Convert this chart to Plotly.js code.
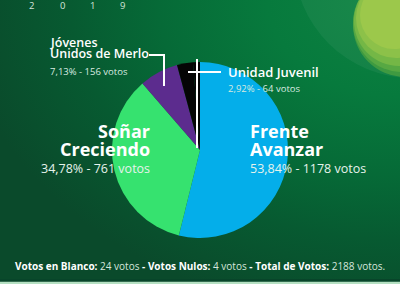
<!DOCTYPE html>
<html>
<head>
<meta charset="utf-8">
<script src="https://cdn.plot.ly/plotly-3.0.1.min.js"></script>
<style>
html,body{margin:0;padding:0;}
#chart{width:400px;height:284px;
background: radial-gradient(ellipse 440px 320px at 100% 0%, #0d8442 0%, #077a3d 30%, #066a37 55%, #075a31 75%, #0a4a2b 100%);}
</style>
</head>
<body>
<div id="chart"></div>
<script>
// Data
const parties = ["Frente Avanzar", "Soñar Creciendo", "Jóvenes Unidos de Merlo", "Unidad Juvenil", "Votos en Blanco y Nulos"];
const votes = [1178, 761, 156, 64, 28];
const percents = ["53,84%", "34,78%", "7,13%", "2,92%"];
const blankVotes = 24;
const nullVotes = 4;
const totalVotes = 2188;
const yearDigits = ["2", "0", "1", "9"];
const colors = ["#04aeea", "#36e26f", "#5c2c8e", "#050505", "#050505"];

const W = 400, H = 284;
const px = x => x / W;
const py = y => 1 - y / H;

const pie = {
  type: "pie",
  values: votes,
  labels: parties,
  sort: false,
  direction: "clockwise",
  rotation: 0,
  textinfo: "none",
  hoverinfo: "label+value",
  marker: {colors: colors, line: {width: 0}},
  domain: {x: [px(112), px(288)], y: [py(238), py(62)]},
  showlegend: false
};

const ann = [];
function txt(t, x, y, size, color, anchor, weight) {
  ann.push({text: t, x: px(x), y: py(y), xref: "paper", yref: "paper",
    xanchor: anchor, yanchor: "middle", showarrow: false, borderpad: 0,
    font: {size: size, color: color, family: "Open Sans, sans-serif", weight: weight || 400}});
}
// Frente Avanzar
txt("Frente", 249, 131, 18, "#ffffff", "left", 700);
txt("Avanzar", 249, 149, 18, "#ffffff", "left", 700);
txt(percents[0] + " - " + votes[0] + " votos", 249, 168, 12.5, "#e6f3ec", "left");
// Soñar Creciendo
txt("Soñar", 151, 131, 18, "#ffffff", "right", 700);
txt("Creciendo", 151, 149, 18, "#ffffff", "right", 700);
txt(percents[1] + " - " + votes[1] + " votos", 151, 168, 12.5, "#e6f3ec", "right");
// Jóvenes
txt("Jóvenes", 49, 42, 12.5, "#ffffff", "left", 600);
txt("Unidos de Merlo", 49, 54, 12.5, "#ffffff", "left", 600);
txt(percents[2] + " - " + votes[2] + " votos", 49, 71, 9.5, "#d9ebe0", "left");
// Unidad Juvenil
txt("Unidad Juvenil", 227, 72, 13, "#ffffff", "left", 600);
txt(percents[3] + " - " + votes[3] + " votos", 227, 88, 9.5, "#d9ebe0", "left");
// Footer
txt("<b>Votos en Blanco:</b> <span style='color:#d6e6dc'>" + blankVotes + " votos</span> <b>-</b> <b>Votos Nulos:</b> <span style='color:#d6e6dc'>" + nullVotes + " votos</span> <b>-</b> <b>Total de Votos:</b> <span style='color:#d6e6dc'>" + totalVotes + " votos.</span>", 200, 266, 10, "#ffffff", "center");
// Year
const yearX = [31, 62, 92, 122];
yearDigits.forEach((d, i) => txt(d, yearX[i], 6, 9.5, "#d4e4da", "center"));

const line = (x0, y0, x1, y1) => ({type: "line", xref: "paper", yref: "paper",
  x0: px(x0), y0: py(y0), x1: px(x1), y1: py(y1), line: {color: "#ffffff", width: 2}, layer: "above"});
const circ = (cx, cy, r, fill) => ({type: "circle", xref: "paper", yref: "paper",
  x0: px(cx - r), x1: px(cx + r), y0: py(cy + r), y1: py(cy - r), fillcolor: fill, line: {width: 0}, layer: "below"});

const shapes = [
  circ(412, -40, 118, "rgba(255,255,255,0.05)"),
  circ(405, 25, 52, "#3f9a41"),
  circ(402, 23, 49, "#57a843"),
  circ(399, 21, 45, "#74b746"),
  circ(396, 18, 40, "#8cc149"),
  circ(394, 15, 34, "#9cc84b"),
  line(149, 55, 165, 55),
  line(164, 54, 164, 86),
  line(188, 72, 221, 72),
  line(197, 59, 197, 148),
  {type: "rect", xref: "paper", yref: "paper", x0: 0, x1: 1, y0: py(284), y1: py(281.5), fillcolor: "#b5e0c2", line: {width: 0}, layer: "above"},
  {type: "rect", xref: "paper", yref: "paper", x0: 0, x1: 1, y0: py(281.5), y1: py(279), fillcolor: "#08452a", line: {width: 0}, layer: "above"}
];

const layout = {
  width: W, height: H,
  margin: {l: 0, r: 0, t: 0, b: 0},
  paper_bgcolor: "rgba(0,0,0,0)",
  plot_bgcolor: "rgba(0,0,0,0)",
  annotations: ann,
  shapes: shapes,
  showlegend: false
};
Plotly.newPlot("chart", [pie], layout, {displayModeBar: false, staticPlot: true});
</script>
</body>
</html>
